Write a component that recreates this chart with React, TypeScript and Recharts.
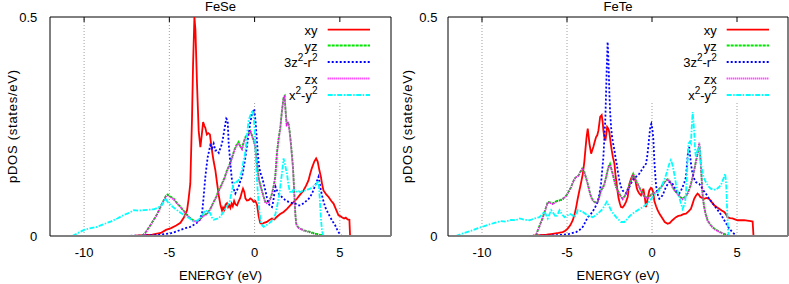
import React from 'react';
import { LineChart, Line, XAxis, YAxis, ReferenceLine, Legend } from 'recharts';

type Pt = [number, number];

const energyTicks = [-10, -5, 0, 5];
const dosTicks = [0, 0.5];
const gridFull = [-10, -5];
const gridShort = [0, 5];

// ---------------- FeSe ----------------
const feSeXy: Pt[] = [
  [-8, 0], [-7, 0.001], [-6, 0.003], [-5.5, 0.007], [-5.2, 0.014], [-4.9, 0.018], [-4.6, 0.024], [-4.35, 0.03],
  [-4.15, 0.042], [-3.96, 0.059], [-3.87, 0.085], [-3.77, 0.12], [-3.67, 0.27], [-3.61, 0.39], [-3.53, 0.5],
  [-3.47, 0.47], [-3.38, 0.35], [-3.28, 0.24], [-3.18, 0.203], [-3.1, 0.23], [-3.02, 0.26], [-2.95, 0.252],
  [-2.89, 0.247], [-2.8, 0.232], [-2.72, 0.235], [-2.62, 0.232], [-2.55, 0.21], [-2.48, 0.19], [-2.4, 0.17],
  [-2.3, 0.15], [-2.2, 0.12], [-2.1, 0.092], [-2.0, 0.07], [-1.91, 0.058], [-1.85, 0.065], [-1.78, 0.06],
  [-1.7, 0.072], [-1.62, 0.075], [-1.55, 0.066], [-1.48, 0.07], [-1.42, 0.064], [-1.35, 0.074], [-1.28, 0.068],
  [-1.2, 0.08], [-1.12, 0.072], [-1.03, 0.07], [-0.95, 0.078], [-0.84, 0.087], [-0.75, 0.1], [-0.68, 0.108],
  [-0.6, 0.1], [-0.54, 0.086], [-0.45, 0.081], [-0.35, 0.082], [-0.25, 0.086], [-0.15, 0.083], [-0.06, 0.078],
  [0.04, 0.08], [0.14, 0.072], [0.24, 0.045], [0.33, 0.03], [0.43, 0.027], [0.55, 0.03], [0.72, 0.032],
  [0.85, 0.036], [1.02, 0.04], [1.15, 0.038], [1.31, 0.044], [1.5, 0.05], [1.7, 0.055], [1.9, 0.062],
  [2.09, 0.07], [2.3, 0.078], [2.48, 0.085], [2.68, 0.095], [2.87, 0.104], [3.02, 0.115], [3.16, 0.127],
  [3.26, 0.142], [3.36, 0.155], [3.5, 0.17], [3.61, 0.177], [3.7, 0.17], [3.8, 0.15], [3.89, 0.135],
  [3.96, 0.118], [4.04, 0.104], [4.2, 0.095], [4.34, 0.089], [4.5, 0.08], [4.63, 0.074], [4.78, 0.06],
  [4.92, 0.047], [5.05, 0.045], [5.12, 0.043], [5.25, 0.04], [5.35, 0.042], [5.45, 0.038], [5.56, 0.037],
  [5.6, 0],
];

const feSeYz: Pt[] = [
  [-8, 0], [-6.6, 0], [-6.4, 0.008], [-6.2, 0.02], [-5.92, 0.037], [-5.72, 0.05], [-5.52, 0.067], [-5.35, 0.08],
  [-5.2, 0.092], [-5.1, 0.095], [-4.95, 0.09], [-4.75, 0.086], [-4.55, 0.075], [-4.35, 0.067], [-4.1, 0.055],
  [-3.87, 0.044], [-3.6, 0.036], [-3.37, 0.033], [-3.2, 0.038], [-3.08, 0.044], [-2.95, 0.048], [-2.79, 0.051],
  [-2.6, 0.062], [-2.4, 0.078], [-2.25, 0.09], [-2.11, 0.104], [-1.91, 0.12], [-1.75, 0.135], [-1.62, 0.15],
  [-1.45, 0.165], [-1.32, 0.18], [-1.2, 0.195], [-1.13, 0.203], [-1.03, 0.21], [-0.94, 0.215], [-0.84, 0.205],
  [-0.74, 0.2], [-0.64, 0.215], [-0.54, 0.226], [-0.45, 0.23], [-0.35, 0.234], [-0.25, 0.24], [-0.15, 0.23],
  [-0.06, 0.22], [0.04, 0.205], [0.14, 0.165], [0.25, 0.13], [0.35, 0.115], [0.43, 0.104], [0.53, 0.09],
  [0.63, 0.078], [0.72, 0.076], [0.82, 0.078], [0.92, 0.085], [1.02, 0.097], [1.12, 0.115], [1.21, 0.135],
  [1.31, 0.19], [1.4, 0.22], [1.51, 0.249], [1.6, 0.285], [1.7, 0.317], [1.76, 0.32], [1.82, 0.285],
  [1.88, 0.256], [1.95, 0.26], [2.0, 0.255], [2.07, 0.235], [2.13, 0.211], [2.2, 0.18], [2.25, 0.158],
  [2.3, 0.12], [2.34, 0.089], [2.39, 0.05], [2.44, 0.028], [2.55, 0.02], [2.68, 0.017], [2.9, 0.013],
  [3.2, 0.01], [3.5, 0.006], [3.8, 0.003], [4.1, 0],
];

const feSeZ2: Pt[] = [
  [-8, 0], [-6.5, 0.001], [-5.5, 0.003], [-4.94, 0.006], [-4.6, 0.01], [-4.35, 0.014], [-4.05, 0.018],
  [-3.77, 0.021], [-3.5, 0.027], [-3.28, 0.033], [-3.15, 0.045], [-3.08, 0.052], [-2.99, 0.089], [-2.89, 0.135],
  [-2.8, 0.165], [-2.75, 0.18], [-2.6, 0.207], [-2.5, 0.2], [-2.4, 0.211], [-2.3, 0.195], [-2.2, 0.196],
  [-2.1, 0.19], [-2.01, 0.2], [-1.91, 0.211], [-1.78, 0.241], [-1.66, 0.268], [-1.58, 0.264], [-1.52, 0.211],
  [-1.42, 0.165], [-1.35, 0.135], [-1.27, 0.112], [-1.13, 0.097], [-1.03, 0.105], [-0.94, 0.112], [-0.84, 0.125],
  [-0.74, 0.135], [-0.64, 0.155], [-0.54, 0.18], [-0.45, 0.205], [-0.35, 0.234], [-0.25, 0.26], [-0.15, 0.279],
  [-0.02, 0.29], [0.06, 0.26], [0.14, 0.215], [0.24, 0.165], [0.33, 0.145], [0.43, 0.135], [0.53, 0.12],
  [0.63, 0.104], [0.72, 0.088], [0.82, 0.074], [0.92, 0.068], [1.02, 0.066], [1.1, 0.08], [1.15, 0.095],
  [1.23, 0.112], [1.31, 0.104], [1.45, 0.095], [1.6, 0.089], [1.8, 0.082], [1.99, 0.078], [2.2, 0.075],
  [2.38, 0.074], [2.55, 0.07], [2.68, 0.07], [2.85, 0.074], [2.97, 0.078], [3.12, 0.083], [3.26, 0.089],
  [3.4, 0.1], [3.56, 0.116], [3.65, 0.125], [3.75, 0.135], [3.82, 0.12], [3.89, 0.104], [4.0, 0.085],
  [4.14, 0.066], [4.3, 0.053], [4.43, 0.043], [4.6, 0.032], [4.73, 0.024], [4.85, 0.014], [4.98, 0.005], [5.1, 0],
];

const feSeZx: Pt[] = [
  [-8, 0], [-6.6, 0], [-6.4, 0.007], [-6.2, 0.019], [-5.92, 0.036], [-5.72, 0.049], [-5.52, 0.066], [-5.35, 0.079],
  [-5.2, 0.09], [-5.1, 0.093], [-4.95, 0.089], [-4.75, 0.084], [-4.55, 0.074], [-4.35, 0.066], [-4.1, 0.054],
  [-3.87, 0.043], [-3.6, 0.035], [-3.37, 0.032], [-3.2, 0.037], [-3.08, 0.043], [-2.95, 0.047], [-2.79, 0.05],
  [-2.6, 0.061], [-2.4, 0.077], [-2.25, 0.088], [-2.11, 0.102], [-1.91, 0.118], [-1.75, 0.133], [-1.62, 0.148],
  [-1.45, 0.163], [-1.32, 0.178], [-1.2, 0.193], [-1.13, 0.2], [-1.03, 0.208], [-0.94, 0.212], [-0.84, 0.203],
  [-0.74, 0.198], [-0.64, 0.212], [-0.54, 0.223], [-0.45, 0.228], [-0.35, 0.232], [-0.25, 0.238], [-0.15, 0.228],
  [-0.06, 0.218], [0.04, 0.203], [0.14, 0.163], [0.25, 0.128], [0.35, 0.113], [0.43, 0.102], [0.53, 0.088],
  [0.63, 0.077], [0.72, 0.075], [0.82, 0.077], [0.92, 0.084], [1.02, 0.095], [1.12, 0.113], [1.21, 0.133],
  [1.31, 0.188], [1.4, 0.218], [1.51, 0.247], [1.6, 0.283], [1.7, 0.315], [1.76, 0.318], [1.82, 0.283],
  [1.88, 0.254], [1.95, 0.258], [2.0, 0.253], [2.07, 0.233], [2.13, 0.209], [2.2, 0.178], [2.25, 0.156],
  [2.3, 0.118], [2.34, 0.087], [2.39, 0.049], [2.44, 0.027], [2.55, 0.019], [2.68, 0.016], [2.9, 0.012],
  [3.2, 0.009], [3.5, 0.005], [3.8, 0.002], [4.1, 0],
];

const feSeX2: Pt[] = [
  [-10.7, 0], [-10.4, 0.006], [-10.0, 0.014], [-9.6, 0.018], [-9.23, 0.021], [-8.85, 0.027], [-8.45, 0.033],
  [-8.05, 0.04], [-7.67, 0.048], [-7.35, 0.053], [-7.09, 0.059], [-6.8, 0.058], [-6.5, 0.059], [-6.2, 0.06],
  [-5.92, 0.061], [-5.65, 0.065], [-5.43, 0.071], [-5.3, 0.08], [-5.23, 0.086], [-5.1, 0.078], [-4.94, 0.071],
  [-4.75, 0.065], [-4.55, 0.059], [-4.3, 0.052], [-4.06, 0.046], [-3.8, 0.04], [-3.57, 0.033], [-3.38, 0.035],
  [-3.18, 0.04], [-3.0, 0.052], [-2.89, 0.059], [-2.75, 0.055], [-2.6, 0.052], [-2.5, 0.042], [-2.4, 0.037],
  [-2.25, 0.039], [-2.11, 0.04], [-1.95, 0.048], [-1.82, 0.055], [-1.65, 0.066], [-1.46, 0.078], [-1.35, 0.1],
  [-1.23, 0.12], [-1.13, 0.125], [-1.03, 0.123], [-0.94, 0.128], [-0.84, 0.135], [-0.74, 0.15], [-0.64, 0.173],
  [-0.55, 0.19], [-0.49, 0.211], [-0.42, 0.24], [-0.35, 0.264], [-0.28, 0.272], [-0.21, 0.279], [-0.12, 0.287],
  [-0.05, 0.27], [0.02, 0.234], [0.1, 0.158], [0.17, 0.11], [0.24, 0.074], [0.3, 0.05], [0.37, 0.032],
  [0.45, 0.024], [0.53, 0.021], [0.65, 0.024], [0.82, 0.028], [0.95, 0.032], [1.11, 0.04], [1.22, 0.05],
  [1.31, 0.066], [1.38, 0.08], [1.46, 0.097], [1.53, 0.12], [1.6, 0.142], [1.65, 0.16], [1.7, 0.177],
  [1.75, 0.168], [1.8, 0.161], [1.85, 0.15], [1.9, 0.142], [1.97, 0.12], [2.05, 0.104], [2.12, 0.098],
  [2.19, 0.1], [2.28, 0.106], [2.38, 0.104], [2.5, 0.1], [2.6, 0.102], [2.68, 0.1], [2.8, 0.103], [2.97, 0.104],
  [3.1, 0.106], [3.26, 0.108], [3.4, 0.112], [3.56, 0.116], [3.68, 0.122], [3.75, 0.127], [3.8, 0.1],
  [3.85, 0.066], [3.9, 0.035], [3.95, 0.013], [4.02, 0],
];

// ---------------- FeTe ----------------
const feTeXy: Pt[] = [
  [-8, 0], [-7, 0.001], [-6.2, 0.003], [-5.84, 0.005], [-5.5, 0.007], [-5.25, 0.009], [-5.1, 0.012],
  [-4.96, 0.017], [-4.8, 0.025], [-4.66, 0.036], [-4.55, 0.05], [-4.46, 0.066], [-4.37, 0.085], [-4.27, 0.104],
  [-4.17, 0.122], [-4.07, 0.142], [-3.98, 0.17], [-3.92, 0.196], [-3.85, 0.225], [-3.78, 0.245], [-3.72, 0.225],
  [-3.68, 0.211], [-3.58, 0.188], [-3.52, 0.195], [-3.45, 0.203], [-3.37, 0.215], [-3.29, 0.226], [-3.22, 0.23],
  [-3.15, 0.241], [-3.05, 0.272], [-2.96, 0.276], [-2.9, 0.26], [-2.86, 0.241], [-2.8, 0.225], [-2.74, 0.218],
  [-2.68, 0.235], [-2.64, 0.249], [-2.57, 0.245], [-2.51, 0.237], [-2.44, 0.215], [-2.37, 0.196], [-2.3, 0.18],
  [-2.21, 0.165], [-2.15, 0.14], [-2.08, 0.119], [-2.02, 0.1], [-1.96, 0.085], [-1.89, 0.074], [-1.82, 0.066],
  [-1.73, 0.065], [-1.63, 0.07], [-1.53, 0.078], [-1.43, 0.089], [-1.38, 0.105], [-1.33, 0.119], [-1.24, 0.13],
  [-1.14, 0.139], [-1.06, 0.135], [-0.98, 0.127], [-0.9, 0.11], [-0.85, 0.104], [-0.75, 0.097], [-0.65, 0.093],
  [-0.58, 0.1], [-0.51, 0.108], [-0.43, 0.09], [-0.35, 0.066], [-0.26, 0.085], [-0.16, 0.104], [-0.06, 0.11],
  [0.0, 0.108], [0.07, 0.1], [0.14, 0.08], [0.24, 0.068], [0.33, 0.059], [0.45, 0.05], [0.62, 0.04],
  [0.75, 0.032], [0.92, 0.028], [1.05, 0.03], [1.2, 0.036], [1.41, 0.043], [1.55, 0.046], [1.7, 0.047],
  [1.85, 0.05], [2.0, 0.051], [2.15, 0.056], [2.29, 0.062], [2.4, 0.075], [2.48, 0.085], [2.58, 0.092],
  [2.68, 0.097], [2.76, 0.094], [2.84, 0.089], [2.95, 0.087], [3.07, 0.085], [3.2, 0.087], [3.36, 0.085],
  [3.5, 0.078], [3.66, 0.07], [3.8, 0.066], [3.95, 0.062], [4.1, 0.058], [4.25, 0.055], [4.35, 0.05],
  [4.44, 0.043], [4.6, 0.041], [4.73, 0.04], [4.88, 0.038], [5.03, 0.036], [5.2, 0.036], [5.42, 0.036],
  [5.6, 0.035], [5.81, 0.034], [5.92, 0.033], [5.97, 0],
];

const feTeYz: Pt[] = [
  [-8, 0], [-6.85, 0], [-6.72, 0.013], [-6.6, 0.025], [-6.42, 0.043], [-6.28, 0.06], [-6.13, 0.078], [-6.0, 0.077],
  [-5.84, 0.074], [-5.7, 0.078], [-5.54, 0.081], [-5.4, 0.082], [-5.25, 0.085], [-5.1, 0.09], [-4.96, 0.097],
  [-4.86, 0.105], [-4.76, 0.112], [-4.66, 0.122], [-4.56, 0.131], [-4.45, 0.135], [-4.31, 0.139], [-4.2, 0.148],
  [-4.11, 0.154], [-3.98, 0.146], [-3.88, 0.133], [-3.78, 0.119], [-3.68, 0.103], [-3.58, 0.089], [-3.48, 0.082],
  [-3.39, 0.078], [-3.29, 0.077], [-3.19, 0.078], [-3.1, 0.09], [-3.0, 0.104], [-2.9, 0.11], [-2.8, 0.119],
  [-2.7, 0.135], [-2.61, 0.15], [-2.54, 0.16], [-2.47, 0.165], [-2.4, 0.155], [-2.31, 0.142], [-2.21, 0.126],
  [-2.11, 0.112], [-2.0, 0.103], [-1.92, 0.097], [-1.82, 0.09], [-1.73, 0.085], [-1.63, 0.09], [-1.53, 0.097],
  [-1.4, 0.11], [-1.3, 0.12], [-1.23, 0.127], [-1.16, 0.135], [-1.1, 0.142], [-1.02, 0.135], [-0.94, 0.127],
  [-0.85, 0.12], [-0.75, 0.112], [-0.65, 0.104], [-0.55, 0.097], [-0.45, 0.09], [-0.35, 0.089], [-0.2, 0.088],
  [-0.06, 0.095], [0.08, 0.098], [0.23, 0.1], [0.38, 0.106], [0.53, 0.112], [0.68, 0.12], [0.82, 0.127],
  [0.92, 0.13], [1.02, 0.127], [1.12, 0.12], [1.21, 0.112], [1.35, 0.103], [1.5, 0.097], [1.65, 0.09],
  [1.8, 0.085], [1.95, 0.09], [2.09, 0.097], [2.2, 0.108], [2.29, 0.119], [2.39, 0.135], [2.48, 0.15],
  [2.58, 0.17], [2.68, 0.188], [2.74, 0.2], [2.78, 0.211], [2.83, 0.19], [2.88, 0.158], [2.93, 0.125],
  [2.97, 0.097], [3.02, 0.08], [3.07, 0.066], [3.17, 0.048], [3.27, 0.036], [3.45, 0.025], [3.66, 0.017],
  [3.95, 0.01], [4.25, 0.005], [4.55, 0],
];

const feTeZ2: Pt[] = [
  [-8, 0], [-6, 0.001], [-5.2, 0.003], [-4.86, 0.005], [-4.46, 0.009], [-4.25, 0.014], [-4.07, 0.021],
  [-3.92, 0.032], [-3.78, 0.043], [-3.58, 0.051], [-3.39, 0.062], [-3.29, 0.07], [-3.19, 0.078], [-3.1, 0.095],
  [-3.0, 0.119], [-2.93, 0.15], [-2.86, 0.18], [-2.8, 0.225], [-2.74, 0.272], [-2.7, 0.33], [-2.66, 0.386],
  [-2.61, 0.443], [-2.57, 0.41], [-2.55, 0.386], [-2.51, 0.33], [-2.47, 0.287], [-2.41, 0.25], [-2.35, 0.226],
  [-2.28, 0.21], [-2.21, 0.196], [-2.15, 0.18], [-2.08, 0.165], [-2.0, 0.145], [-1.92, 0.127], [-1.82, 0.112],
  [-1.73, 0.104], [-1.63, 0.1], [-1.53, 0.097], [-1.43, 0.105], [-1.33, 0.112], [-1.23, 0.12], [-1.14, 0.127],
  [-1.04, 0.132], [-0.94, 0.135], [-0.85, 0.138], [-0.75, 0.142], [-0.65, 0.148], [-0.55, 0.154], [-0.45, 0.16],
  [-0.35, 0.165], [-0.27, 0.185], [-0.2, 0.211], [-0.14, 0.235], [-0.1, 0.249], [-0.04, 0.256], [0.02, 0.245],
  [0.08, 0.22], [0.14, 0.17], [0.19, 0.14], [0.24, 0.115], [0.29, 0.104], [0.36, 0.092], [0.43, 0.085],
  [0.52, 0.088], [0.62, 0.093], [0.72, 0.102], [0.82, 0.112], [0.92, 0.118], [1.02, 0.123], [1.12, 0.122],
  [1.21, 0.119], [1.31, 0.112], [1.41, 0.104], [1.5, 0.1], [1.6, 0.097], [1.7, 0.103], [1.8, 0.112], [1.9, 0.122],
  [2.0, 0.135], [2.05, 0.16], [2.09, 0.18], [2.14, 0.198], [2.19, 0.203], [2.24, 0.185], [2.29, 0.165],
  [2.36, 0.148], [2.44, 0.135], [2.51, 0.128], [2.58, 0.123], [2.68, 0.121], [2.78, 0.119], [2.9, 0.112],
  [3.03, 0.104], [3.2, 0.095], [3.36, 0.085], [3.5, 0.078], [3.66, 0.07], [3.8, 0.062], [3.95, 0.055],
  [4.1, 0.046], [4.25, 0.036], [4.4, 0.026], [4.54, 0.017], [4.7, 0.01], [4.83, 0.005], [5.0, 0],
];

const feTeZx: Pt[] = [
  [-8, 0], [-6.85, 0], [-6.72, 0.012], [-6.6, 0.024], [-6.42, 0.042], [-6.28, 0.059], [-6.13, 0.077], [-6.0, 0.076],
  [-5.84, 0.073], [-5.7, 0.077], [-5.54, 0.08], [-5.4, 0.081], [-5.25, 0.084], [-5.1, 0.089], [-4.96, 0.096],
  [-4.86, 0.104], [-4.76, 0.111], [-4.66, 0.121], [-4.56, 0.13], [-4.45, 0.134], [-4.31, 0.138], [-4.2, 0.147],
  [-4.11, 0.152], [-3.98, 0.145], [-3.88, 0.132], [-3.78, 0.118], [-3.68, 0.102], [-3.58, 0.088], [-3.48, 0.081],
  [-3.39, 0.077], [-3.29, 0.076], [-3.19, 0.077], [-3.1, 0.089], [-3.0, 0.103], [-2.9, 0.109], [-2.8, 0.118],
  [-2.7, 0.134], [-2.61, 0.149], [-2.54, 0.159], [-2.47, 0.163], [-2.4, 0.154], [-2.31, 0.141], [-2.21, 0.125],
  [-2.11, 0.111], [-2.0, 0.102], [-1.92, 0.096], [-1.82, 0.089], [-1.73, 0.084], [-1.63, 0.089], [-1.53, 0.096],
  [-1.4, 0.109], [-1.3, 0.119], [-1.23, 0.126], [-1.16, 0.134], [-1.1, 0.14], [-1.02, 0.134], [-0.94, 0.126],
  [-0.85, 0.119], [-0.75, 0.111], [-0.65, 0.103], [-0.55, 0.096], [-0.45, 0.089], [-0.35, 0.088], [-0.2, 0.087],
  [-0.06, 0.094], [0.08, 0.097], [0.23, 0.099], [0.38, 0.105], [0.53, 0.111], [0.68, 0.119], [0.82, 0.126],
  [0.92, 0.129], [1.02, 0.126], [1.12, 0.119], [1.21, 0.111], [1.35, 0.102], [1.5, 0.096], [1.65, 0.089],
  [1.8, 0.084], [1.95, 0.089], [2.09, 0.096], [2.2, 0.107], [2.29, 0.118], [2.39, 0.134], [2.48, 0.149],
  [2.58, 0.169], [2.68, 0.187], [2.74, 0.2], [2.78, 0.213], [2.83, 0.19], [2.88, 0.157], [2.93, 0.124],
  [2.97, 0.096], [3.02, 0.079], [3.07, 0.065], [3.17, 0.047], [3.27, 0.035], [3.45, 0.024], [3.66, 0.016],
  [3.95, 0.009], [4.25, 0.004], [4.55, 0],
];

const feTeX2: Pt[] = [
  [-11.55, 0], [-11.2, 0.005], [-10.8, 0.01], [-10.5, 0.014], [-10.24, 0.018], [-9.9, 0.022], [-9.6, 0.026],
  [-9.26, 0.03], [-8.9, 0.034], [-8.6, 0.033], [-8.28, 0.037], [-8.0, 0.036], [-7.79, 0.04], [-7.5, 0.037],
  [-7.21, 0.036], [-6.9, 0.04], [-6.62, 0.043], [-6.45, 0.05], [-6.32, 0.055], [-6.2, 0.046], [-6.13, 0.04],
  [-6.03, 0.05], [-5.93, 0.059], [-5.8, 0.052], [-5.64, 0.043], [-5.54, 0.05], [-5.44, 0.059], [-5.3, 0.05],
  [-5.15, 0.043], [-5.0, 0.046], [-4.86, 0.051], [-4.7, 0.048], [-4.56, 0.043], [-4.45, 0.05], [-4.37, 0.059],
  [-4.2, 0.057], [-4.07, 0.055], [-3.9, 0.05], [-3.78, 0.047], [-3.62, 0.045], [-3.49, 0.043], [-3.35, 0.046],
  [-3.19, 0.051], [-3.05, 0.056], [-2.9, 0.062], [-2.78, 0.07], [-2.66, 0.078], [-2.55, 0.07], [-2.41, 0.059],
  [-2.25, 0.05], [-2.11, 0.043], [-1.95, 0.037], [-1.82, 0.032], [-1.63, 0.032], [-1.43, 0.04], [-1.3, 0.046],
  [-1.14, 0.051], [-1.0, 0.055], [-0.85, 0.059], [-0.7, 0.062], [-0.55, 0.066], [-0.4, 0.07], [-0.26, 0.074],
  [-0.1, 0.082], [0.04, 0.089], [0.2, 0.095], [0.33, 0.1], [0.43, 0.104], [0.53, 0.11], [0.62, 0.119],
  [0.72, 0.128], [0.82, 0.139], [0.92, 0.152], [1.02, 0.165], [1.11, 0.173], [1.19, 0.165], [1.27, 0.15],
  [1.34, 0.135], [1.41, 0.119], [1.5, 0.103], [1.6, 0.089], [1.7, 0.075], [1.8, 0.062], [1.87, 0.068],
  [1.94, 0.074], [2.0, 0.1], [2.06, 0.142], [2.1, 0.18], [2.15, 0.211], [2.22, 0.215], [2.29, 0.211],
  [2.34, 0.25], [2.39, 0.283], [2.44, 0.26], [2.48, 0.241], [2.53, 0.2], [2.58, 0.18], [2.63, 0.19],
  [2.68, 0.196], [2.73, 0.2], [2.78, 0.203], [2.83, 0.185], [2.88, 0.165], [2.95, 0.15], [3.03, 0.135],
  [3.13, 0.126], [3.23, 0.119], [3.35, 0.112], [3.46, 0.108], [3.6, 0.106], [3.76, 0.106], [3.9, 0.11],
  [4.05, 0.116], [4.13, 0.124], [4.2, 0.131], [4.3, 0.142], [4.35, 0.125], [4.38, 0.104], [4.41, 0.07],
  [4.44, 0.043], [4.47, 0.015], [4.52, 0],
];

// ---------------- styling ----------------
const FONT = '"Liberation Sans", Arial, sans-serif';
const FS = 13;
const LW = 1.8;

type SeriesStyle = { key: string; color: string; dash?: string };

const seriesStyles: SeriesStyle[] = [
  { key: 'xy', color: '#ff0000' },
  { key: 'yz', color: '#00e600', dash: '3 1' },
  { key: 'z2', color: '#0000ff', dash: '2 2' },
  { key: 'zx', color: '#ff00ff', dash: '1 1' },
  { key: 'x2', color: '#00ffff', dash: '5 1.5 1.5 1.5' },
];

const rows = (pts: Pt[]) => pts.map(([e, v]) => ({ e, v }));

function legendLabel(key: string, x: number, y: number) {
  const common = { x, y, textAnchor: 'end' as const, fontSize: FS, fontFamily: FONT, fill: '#000' };
  if (key === 'z2') {
    return (
      <text {...common}>
        3z<tspan dy={-6} fontSize={10}>2</tspan><tspan dy={6}>-r</tspan><tspan dy={-6} fontSize={10}>2</tspan>
      </text>
    );
  }
  if (key === 'x2') {
    return (
      <text {...common}>
        x<tspan dy={-6} fontSize={10}>2</tspan><tspan dy={6}>-y</tspan><tspan dy={-6} fontSize={10}>2</tspan>
      </text>
    );
  }
  return <text {...common}>{key}</text>;
}

type PanelProps = {
  title: string;
  data: Pt[][];
  width: number;
  yAxisWidth: number;
  rightMargin: number;
  yTickMargin: number;
  legendTextRight: number;
  legendX1: number;
  legendX2: number;
};

const H = 284;
const PLOT_TOP = 17;
const PLOT_BOTTOM = 236;
const legendRowsY = [29.7, 45.5, 62, 78.5, 95];

function DosPanel(p: PanelProps) {
  const plotLeft = p.yAxisWidth;
  const plotRight = p.width - p.rightMargin;
  const cx = (plotLeft + plotRight) / 2;
  const cy = (PLOT_TOP + PLOT_BOTTOM) / 2;
  const shortTop = 0.306;
  const tickLen = 5 / 438;

  return (
    <LineChart width={p.width} height={H} margin={{ top: PLOT_TOP, right: p.rightMargin, bottom: 0, left: 0 }}>
      <XAxis
        dataKey="e"
        type="number"
        domain={[-12, 8]}
        ticks={energyTicks}
        allowDataOverflow
        height={H - PLOT_BOTTOM}
        tickLine={false}
        tickSize={0}
        tickMargin={11.5}
        axisLine={{ stroke: '#808080', strokeWidth: 2 }}
        tick={{ fill: '#000', fontSize: FS, fontFamily: FONT }}
        label={() => (
          <text x={cx} y={280} textAnchor="middle" fontSize={FS} fontFamily={FONT} fill="#000" textLength={83} lengthAdjust="spacing">
            ENERGY (eV)
          </text>
        )}
      />
      <YAxis
        type="number"
        domain={[0, 0.5]}
        ticks={dosTicks}
        allowDataOverflow
        width={p.yAxisWidth}
        tickLine={false}
        tickSize={0}
        tickMargin={p.yTickMargin}
        axisLine={{ stroke: '#000', strokeWidth: 1 }}
        tick={{ fill: '#000', fontSize: FS, fontFamily: FONT }}
        label={() => (
          <text
            x={12}
            y={cy}
            transform={`rotate(-90 12 ${cy})`}
            textAnchor="middle"
            dominantBaseline="central"
            fontSize={FS}
            fontFamily={FONT}
            fill="#000"
            textLength={113}
            lengthAdjust="spacing"
          >
            pDOS (states/eV)
          </text>
        )}
      />
      {gridFull.map((g) => (
        <ReferenceLine key={`gf${g}`} x={g} stroke="#a0a0a0" strokeDasharray="1 2" strokeWidth={1} />
      ))}
      {gridShort.map((g) => (
        <ReferenceLine
          key={`gs${g}`}
          segment={[{ x: g, y: 0 }, { x: g, y: shortTop }]}
          stroke="#a0a0a0"
          strokeDasharray="1 2"
          strokeWidth={1}
        />
      ))}
      {energyTicks.map((g) => (
        <ReferenceLine
          key={`tt${g}`}
          segment={[{ x: g, y: 0.5 }, { x: g, y: 0.5 - tickLen }]}
          stroke="#000"
          strokeWidth={1}
        />
      ))}
      <ReferenceLine
        y={0.5}
        stroke="#000"
        strokeWidth={1}
        label={() => (
          <text x={cx} y={11} textAnchor="middle" fontSize={FS} fontFamily={FONT} fill="#000">
            {p.title}
          </text>
        )}
      />
      <ReferenceLine x={8} stroke="#000" strokeWidth={1} />
      {seriesStyles.map((s, i) => (
        <Line
          key={s.key}
          data={rows(p.data[i])}
          dataKey="v"
          name={s.key}
          type="linear"
          dot={false}
          activeDot={false}
          stroke={s.color}
          strokeWidth={LW}
          strokeDasharray={s.dash}
          isAnimationActive={false}
        />
      ))}
      <Legend
        layout="vertical"
        align="center"
        verticalAlign="middle"
        wrapperStyle={{ position: 'absolute', left: 0, top: 0, width: p.width, height: H, pointerEvents: 'none' }}
        content={() => (
          <svg width={p.width} height={H} style={{ position: 'absolute', left: 0, top: 0 }}>
            {seriesStyles.map((s, i) => (
              <g key={s.key}>
                {legendLabel(s.key, p.legendTextRight, legendRowsY[i] + 5)}
                <line
                  x1={p.legendX1}
                  x2={p.legendX2}
                  y1={legendRowsY[i]}
                  y2={legendRowsY[i]}
                  stroke={s.color}
                  strokeWidth={LW}
                  strokeDasharray={s.dash}
                />
              </g>
            ))}
          </svg>
        )}
      />
    </LineChart>
  );
}

export default function App() {
  return (
    <div style={{ position: 'absolute', left: 0, top: 0, width: 789, height: 284, background: '#fff', overflow: 'hidden' }}>
      <div style={{ position: 'absolute', left: 0, top: 0 }}>
        <DosPanel
          title="FeSe"
          data={[feSeXy, feSeYz, feSeZ2, feSeZx, feSeX2]}
          width={395}
          yAxisWidth={50}
          rightMargin={4}
          yTickMargin={12.7}
          legendTextRight={317.5}
          legendX1={327.7}
          legendX2={370}
        />
      </div>
      <div style={{ position: 'absolute', left: 395, top: 0 }}>
        <DosPanel
          title="FeTe"
          data={[feTeXy, feTeYz, feTeZ2, feTeZx, feTeX2]}
          width={394}
          yAxisWidth={53}
          rightMargin={1}
          yTickMargin={10.6}
          legendTextRight={321.7}
          legendX1={331.7}
          legendX2={374}
        />
      </div>
    </div>
  );
}
